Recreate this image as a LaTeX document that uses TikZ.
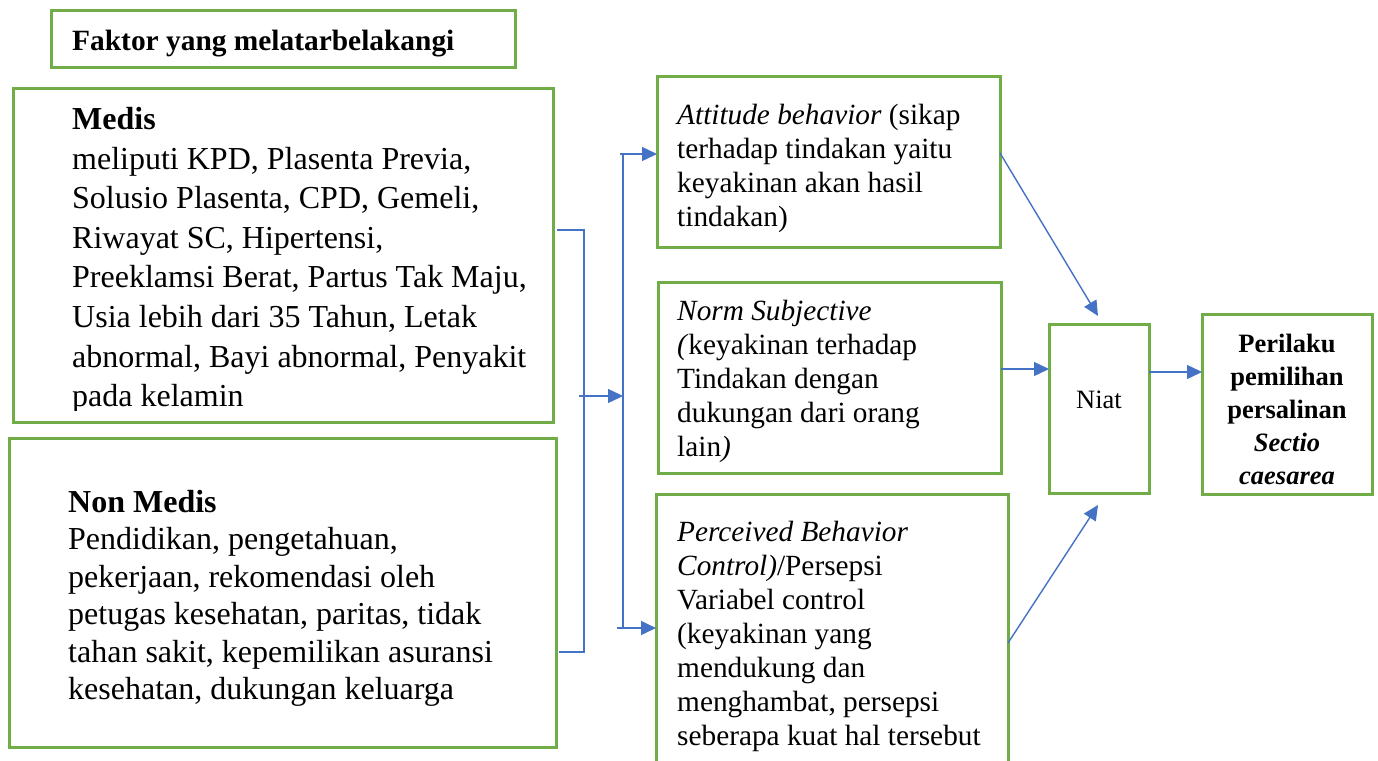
\documentclass[tikz,border=0pt]{standalone}
\usepackage{fontspec}
\setmainfont{Liberation Serif}
\usetikzlibrary{arrows.meta}
\definecolor{boxgreen}{HTML}{70AD47}
\definecolor{linkblue}{HTML}{4472C4}
\tikzset{
  box/.style={draw=boxgreen, line width=3pt, anchor=north west, inner sep=0pt, outer sep=0pt},
  txtL/.style={anchor=north west, inner sep=0pt, align=left, font=\fontsize{32pt}{39.6pt}\selectfont},
  txtN/.style={anchor=north west, inner sep=0pt, align=left, font=\fontsize{32pt}{37.5pt}\selectfont},
  txtR/.style={anchor=north west, inner sep=0pt, align=left, font=\fontsize{29.3pt}{34pt}\selectfont},
  txtT/.style={anchor=north west, inner sep=0pt, align=left, font=\fontsize{29.4pt}{34pt}\selectfont\bfseries},
  txtS/.style={inner sep=0pt, align=center, font=\fontsize{26.5pt}{33pt}\selectfont},
  link/.style={draw=linkblue, line width=1.4pt},
  arr/.style={link, -{Triangle[length=15pt,width=14pt]}},
}
\begin{document}
\begin{tikzpicture}[x=1pt,y=-1pt]
\clip (0,0) rectangle (1378,760);
\useasboundingbox (0,0) rectangle (1378,760);
\fill[white] (0,0) rectangle (1378,760);

% boxes
\node[box, minimum width=464pt, minimum height=57pt] (title) at (51,11) {};
\node[box, minimum width=540pt, minimum height=334pt] (medis) at (13,88) {};
\node[box, minimum width=547pt, minimum height=309pt] (nonmedis) at (9,438) {};
\node[box, minimum width=343pt, minimum height=171pt] (attitude) at (657,76) {};
\node[box, minimum width=343pt, minimum height=191pt] (norm) at (658,282) {};
\node[box, minimum width=352pt, minimum height=290pt] (perceived) at (656,494) {};
\node[box, minimum width=100pt, minimum height=169pt] (niat) at (1049,324) {};
\node[box, minimum width=170pt, minimum height=180pt] (perilaku) at (1202,314) {};

% texts
\node[txtT] (titletext) at (72,30) {Faktor yang melatarbelakangi};
\begin{scope}
\clip (13,88) rectangle (553,410);
\node[txtL] (medistext) at (72,107) {\textbf{Medis}\\
meliputi KPD, Plasenta Previa,\\
Solusio Plasenta, CPD, Gemeli,\\
Riwayat SC, Hipertensi,\\
Preeklamsi Berat, Partus Tak Maju,\\
Usia lebih dari 35 Tahun, Letak\\
abnormal, Bayi abnormal, Penyakit\\
pada kelamin};
\end{scope}
\node[txtN] (nonmedistext) at (68,490) {\textbf{Non Medis}\\
Pendidikan, pengetahuan,\\
pekerjaan, rekomendasi oleh\\
petugas kesehatan, paritas, tidak\\
tahan sakit, kepemilikan asuransi\\
kesehatan, dukungan keluarga};
\node[txtR] (attitudetext) at (677,104) {\textit{Attitude behavior} (sikap\\
terhadap tindakan yaitu\\
keyakinan akan hasil\\
tindakan)};
\node[txtR] (normtext) at (677,300) {\textit{Norm Subjective}\\
\textit{(}keyakinan terhadap\\
Tindakan dengan\\
dukungan dari orang\\
lain\textit{)}};
\node[txtR] (perceivedtext) at (677,521) {\textit{Perceived Behavior}\\
\textit{Control)}/Persepsi\\
Variabel control\\
(keyakinan yang\\
mendukung dan\\
menghambat, persepsi\\
seberapa kuat hal tersebut};
\node[txtS] (niattext) at (1099,400) {Niat};
\node[txtS, font=\fontsize{26.5pt}{33pt}\selectfont\bfseries] (periltext) at (1287,409) {Perilaku\\
pemilihan\\
persalinan\\
\textit{Sectio}\\
\textit{caesarea}};

% connectors on the left
\coordinate (bx) at (584,396);
\coordinate (vx) at (623,396);
\draw[link] ([xshift=4pt]medis.east |- 0,230) -| (bx) |- ([xshift=3pt]nonmedis.east |- 0,652);
\draw[arr] (579,396) -- (vx);
\draw[link] (vx |- 0,154) -- (vx |- 0,628);
\draw[arr] (620,154) -- (attitude.west |- 0,154);
\draw[arr] (617,628) -- (perceived.west |- 0,628);

% connectors on the right
\draw[arr] (attitude.east |- 0,153) -- ([xshift=-1pt,yshift=8pt]niat.north);
\draw[arr] (norm.east |- 0,369) -- (niat.west |- 0,369);
\draw[arr] (perceived.east |- 0,643) -- ([xshift=-1pt,yshift=-12pt]niat.south);
\draw[arr] (niat.east |- 0,372) -- (perilaku.west |- 0,372);
\end{tikzpicture}
\end{document}
